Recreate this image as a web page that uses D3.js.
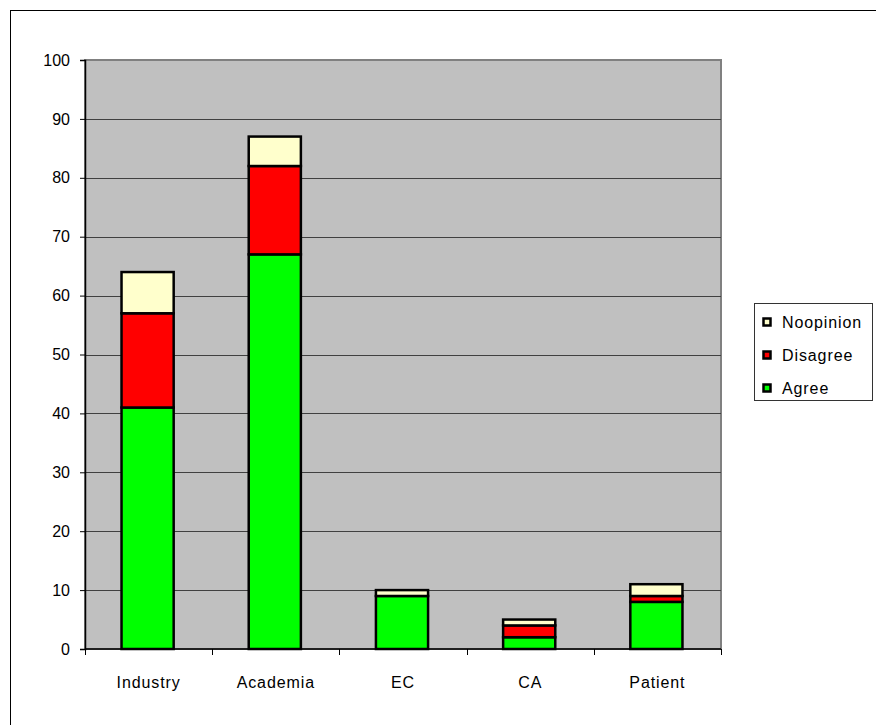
<!DOCTYPE html>
<html>
<head>
<meta charset="utf-8">
<script src="https://cdn.jsdelivr.net/npm/d3@7"></script>
<style>
  html, body { margin: 0; padding: 0; background: #fff; }
  svg { display: block; }
  text { font-family: Arial, "Liberation Sans", sans-serif; }
</style>
</head>
<body>
<svg id="chart" width="876" height="725"></svg>
<script>
// Survey responses per stakeholder group
const categories = ["Industry", "Academia", "EC", "CA", "Patient"];
const agree      = [41, 67, 9, 2, 8];
const disagree   = [16, 15, 0, 2, 1];
const noOpinion  = [7, 5, 1, 1, 2];
const seriesKeys = ["Agree", "Disagree", "Noopinion"];
const seriesColors = ["#00FF00", "#FF0000", "#FFFFCC"];
const yTicks = [0, 10, 20, 30, 40, 50, 60, 70, 80, 90, 100];

const rows = categories.map((c, i) => ({
  category: c,
  Agree: agree[i],
  Disagree: disagree[i],
  Noopinion: noOpinion[i]
}));

const svg = d3.select("#chart");

// outer frame
svg.append("rect")
  .attr("x", 10.5).attr("y", 10.5)
  .attr("width", 880).attr("height", 730)
  .attr("fill", "none").attr("stroke", "#000").attr("stroke-width", 1);

const plot = { left: 85, right: 721, top: 60, bottom: 649 };

const x = d3.scaleBand()
  .domain(categories)
  .range([plot.left, plot.right])
  .padding(0);

const y = d3.scaleLinear()
  .domain([0, 100])
  .range([plot.bottom, plot.top]);

const color = d3.scaleOrdinal().domain(seriesKeys).range(seriesColors);

// plot area
svg.append("rect")
  .attr("x", plot.left).attr("y", plot.top)
  .attr("width", plot.right - plot.left).attr("height", plot.bottom - plot.top)
  .attr("fill", "#C0C0C0")
  .attr("stroke", "#808080").attr("stroke-width", 2);

// horizontal gridlines
svg.append("g")
  .selectAll("line")
  .data(yTicks.filter(t => t > 0 && t < 100))
  .join("line")
  .attr("x1", plot.left).attr("x2", plot.right)
  .attr("y1", d => Math.round(y(d)) + 0.5).attr("y2", d => Math.round(y(d)) + 0.5)
  .attr("stroke", "#404040").attr("stroke-width", 1);

// stacked bars
const stacked = d3.stack().keys(seriesKeys)(rows);
const barW = x.bandwidth() * 0.41;

svg.append("g")
  .selectAll("g")
  .data(stacked)
  .join("g")
  .attr("fill", d => color(d.key))
  .selectAll("rect")
  .data(d => d)
  .join("rect")
  .attr("x", d => x(d.data.category) + x.bandwidth() / 2 - barW / 2 - 1)
  .attr("y", d => y(d[1]))
  .attr("width", barW)
  .attr("height", d => y(d[0]) - y(d[1]))
  .attr("stroke", "#000")
  .attr("stroke-width", 2.5);

// y axis
const yAxis = svg.append("g")
  .attr("transform", `translate(${plot.left},0)`)
  .call(d3.axisLeft(y).tickValues(yTicks).tickSize(5).tickPadding(10));
yAxis.select(".domain").attr("stroke", "#000").attr("stroke-width", 1.5);
yAxis.selectAll(".tick line").attr("stroke", "#000");
yAxis.selectAll("text")
  .attr("font-size", 16)
  .attr("fill", "#000")
  .attr("font-family", "Arial, 'Liberation Sans', sans-serif");

// x axis: labels centered on each category
const xAxis = svg.append("g")
  .attr("transform", `translate(0,${plot.bottom})`)
  .call(d3.axisBottom(x).tickSize(0).tickPadding(28));
xAxis.select(".domain").remove();
xAxis.selectAll("text")
  .attr("font-size", 16)
  .attr("letter-spacing", "0.9px")
  .attr("fill", "#000")
  .attr("font-family", "Arial, 'Liberation Sans', sans-serif");

// x axis line with ticks at category boundaries
const bounds = categories.map(c => x(c)).concat([plot.right]);
svg.append("line")
  .attr("x1", plot.left).attr("x2", plot.right)
  .attr("y1", plot.bottom).attr("y2", plot.bottom)
  .attr("stroke", "#000").attr("stroke-width", 1.5);
svg.append("g")
  .selectAll("line")
  .data(bounds)
  .join("line")
  .attr("x1", d => Math.round(d) + 0.5).attr("x2", d => Math.round(d) + 0.5)
  .attr("y1", plot.bottom).attr("y2", plot.bottom + 6)
  .attr("stroke", "#000").attr("stroke-width", 1);

// legend
const legend = svg.append("g");
legend.append("rect")
  .attr("x", 754.5).attr("y", 303.5)
  .attr("width", 118).attr("height", 97)
  .attr("fill", "#fff").attr("stroke", "#333").attr("stroke-width", 1);

const legendOrder = seriesKeys.slice().reverse();
const item = legend.selectAll("g.item")
  .data(legendOrder)
  .join("g")
  .attr("class", "item")
  .attr("transform", (d, i) => `translate(0,${322 + i * 33})`);

item.append("rect")
  .attr("x", 763.5).attr("y", -3.5)
  .attr("width", 7).attr("height", 7)
  .attr("fill", d => color(d))
  .attr("stroke", "#000").attr("stroke-width", 2.5);

item.append("text")
  .attr("x", 782).attr("y", 0)
  .attr("dy", "0.36em")
  .attr("font-size", 16)
  .attr("letter-spacing", "0.9px")
  .attr("fill", "#000")
  .text(d => d);
</script>
</body>
</html>
